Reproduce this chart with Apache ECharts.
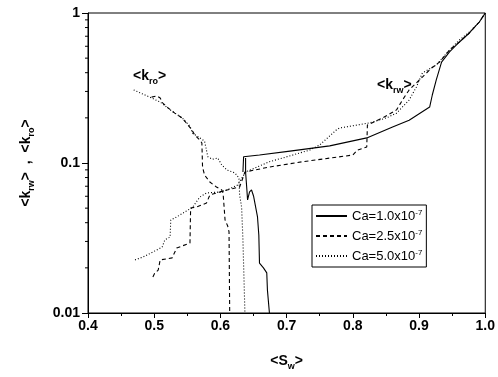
<!DOCTYPE html>
<html>
<head>
<meta charset="utf-8">
<script src="https://cdn.jsdelivr.net/npm/echarts@6/dist/echarts.min.js"></script>
<style>
  html, body { margin: 0; padding: 0; background: #fff; }
  #chart { width: 498px; height: 377px; }
</style>
</head>
<body>
<div id="chart"></div>
<script>
// series names (legend)
const caNames = ["Ca=1.0x10-7", "Ca=2.5x10-7", "Ca=5.0x10-7"];

// <k_rw> curves, [Sw, k]
const krwCa10 = [
  [0.634, 0.0871], [0.635, 0.110], [0.659, 0.113], [0.705, 0.120], [0.765, 0.130],
  [0.821, 0.147], [0.860, 0.174], [0.885, 0.193], [0.916, 0.236], [0.920, 0.284],
  [0.926, 0.358], [0.934, 0.471], [0.946, 0.550], [0.961, 0.641], [0.976, 0.736],
  [0.991, 0.871], [1.0, 1.0]
];
const krwCa25 = [
  [0.498, 0.0174], [0.501, 0.0185], [0.506, 0.0193], [0.509, 0.0226], [0.527, 0.0233],
  [0.534, 0.0271], [0.554, 0.0293], [0.555, 0.0501], [0.564, 0.0509], [0.579, 0.0541],
  [0.584, 0.0612], [0.594, 0.0631], [0.610, 0.0661], [0.629, 0.0692], [0.637, 0.0871],
  [0.674, 0.0940], [0.724, 0.102], [0.800, 0.113], [0.807, 0.122], [0.821, 0.128],
  [0.822, 0.179], [0.845, 0.200], [0.866, 0.226], [0.875, 0.263], [0.885, 0.307],
  [0.905, 0.374], [0.919, 0.430], [0.931, 0.471], [0.946, 0.567], [0.961, 0.641],
  [0.976, 0.736], [0.991, 0.871], [1.0, 1.0]
];
const krwCa50 = [
  [0.471, 0.0226], [0.483, 0.0236], [0.498, 0.0255], [0.512, 0.0275], [0.516, 0.0307],
  [0.524, 0.0321], [0.525, 0.0417], [0.534, 0.0437], [0.551, 0.0486], [0.557, 0.0501],
  [0.569, 0.0593], [0.579, 0.0631], [0.599, 0.0641], [0.610, 0.0661], [0.626, 0.0713],
  [0.638, 0.0871], [0.674, 0.102], [0.694, 0.108], [0.735, 0.122], [0.750, 0.132],
  [0.775, 0.166], [0.780, 0.171], [0.825, 0.185], [0.851, 0.200], [0.866, 0.215],
  [0.885, 0.263], [0.896, 0.321], [0.905, 0.398], [0.926, 0.450], [0.946, 0.567],
  [0.961, 0.661], [0.976, 0.747], [0.991, 0.871], [1.0, 1.0]
];

// <k_ro> curves, [Sw, k]
const kroCa10 = [
  [0.638, 0.108], [0.638, 0.0871], [0.640, 0.0661], [0.641, 0.0567], [0.644, 0.0641],
  [0.647, 0.0661], [0.650, 0.0603], [0.656, 0.0437], [0.658, 0.0331], [0.659, 0.0215],
  [0.665, 0.0200], [0.670, 0.0185], [0.671, 0.0142], [0.674, 0.0100]
];
const kroCa25 = [
  [0.496, 0.275], [0.504, 0.280], [0.509, 0.271], [0.513, 0.251], [0.521, 0.233],
  [0.531, 0.215], [0.542, 0.200], [0.551, 0.179], [0.557, 0.166], [0.561, 0.154],
  [0.569, 0.142], [0.572, 0.136], [0.573, 0.0940], [0.576, 0.0832], [0.584, 0.0747],
  [0.594, 0.0692], [0.602, 0.0661], [0.604, 0.0631], [0.607, 0.0417], [0.611, 0.0380],
  [0.613, 0.0347], [0.614, 0.0100]
];
const kroCa50 = [
  [0.469, 0.307], [0.486, 0.284], [0.509, 0.255], [0.524, 0.226], [0.542, 0.200],
  [0.554, 0.176], [0.558, 0.158], [0.569, 0.147], [0.576, 0.140], [0.579, 0.138],
  [0.581, 0.110], [0.588, 0.106], [0.596, 0.108], [0.602, 0.0970], [0.610, 0.0898],
  [0.622, 0.0858], [0.628, 0.0794], [0.629, 0.0612], [0.632, 0.0509], [0.634, 0.0307],
  [0.637, 0.0100]
];

// log axis minor tick values (2..9 per decade)
const yMinorTicks = [0.02, 0.03, 0.04, 0.05, 0.06, 0.07, 0.08, 0.09,
  0.2, 0.3, 0.4, 0.5, 0.6, 0.7, 0.8, 0.9];

const FONT = "Arial";
const lineTypes = ["solid", [4, 3], [1, 2]];

const chart = echarts.init(document.getElementById("chart"));

function curve(name, data, idx) {
  return {
    name: name,
    type: "line",
    data: data,
    symbol: "none",
    showSymbol: false,
    lineStyle: { color: "#000", width: 1.1, type: lineTypes[idx] },
    itemStyle: { color: "#000" },
    emphasis: { disabled: true },
  };
}

const subStyle = { fontSize: 9, fontWeight: "bold", fontFamily: FONT, verticalAlign: "bottom", color: "#000" };

const option = {
  animation: false,
  grid: {
    left: 88, right: 12, top: 13, bottom: 64,
    show: true, borderColor: "#000", borderWidth: 1,
  },
  legend: {
    data: caNames,
    orient: "vertical",
    left: 312, top: 205,
    itemWidth: 31, itemHeight: 14, itemGap: 6,
    padding: [4, 4, 4, 3],
    borderColor: "#000", borderWidth: 1,
    itemStyle: { opacity: 0 },
    formatter: (n) => n.replace("-7", "{sup|-7}"),
    textStyle: {
      fontFamily: FONT, fontSize: 13, color: "#000", lineHeight: 14,
      rich: { sup: { fontSize: 8, fontFamily: FONT, verticalAlign: "top", color: "#000" } },
    },
  },
  xAxis: {
    type: "value",
    min: 0.4, max: 1.0, interval: 0.1,
    name: "<S{s|w}>",
    nameLocation: "middle", nameGap: 38,
    nameTextStyle: {
      fontFamily: FONT, fontSize: 14, fontWeight: "bold", color: "#000", lineHeight: 20,
      rich: { s: subStyle },
    },
    axisLine: { lineStyle: { color: "#000", width: 1 } },
    axisTick: { length: 5, lineStyle: { color: "#000" } },
    minorTick: { show: true, splitNumber: 2, length: 3, lineStyle: { color: "#000" } },
    splitLine: { show: false },
    axisLabel: {
      margin: 6, color: "#000", fontFamily: FONT, fontSize: 14, fontWeight: "bold",
      formatter: (v) => v.toFixed(1),
    },
  },
  yAxis: {
    type: "log", logBase: 10,
    min: 0.01, max: 1,
    name: "<k{s|rw}>  ,  <k{s|ro}>",
    nameLocation: "middle", nameGap: 52,
    nameTextStyle: {
      fontFamily: FONT, fontSize: 14, fontWeight: "bold", color: "#000", lineHeight: 20,
      rich: { s: subStyle },
    },
    axisLine: { show: true, lineStyle: { color: "#000", width: 1 } },
    axisTick: { length: 6, lineStyle: { color: "#000" } },
    splitLine: { show: false },
    axisLabel: {
      margin: 8, color: "#000", fontFamily: FONT, fontSize: 14, fontWeight: "bold",
      formatter: (v) => String(v),
    },
  },
  graphic: [
    {
      type: "text", left: 133, top: 66,
      style: {
        text: "<k{s|ro}>", fill: "#000",
        font: "bold 14px " + FONT,
        rich: { s: Object.assign({ lineHeight: 20 }, subStyle) },
        lineHeight: 20,
      },
    },
    {
      type: "text", left: 377, top: 75,
      style: {
        text: "<k{s|rw}>", fill: "#000",
        font: "bold 14px " + FONT,
        rich: { s: Object.assign({ lineHeight: 20 }, subStyle) },
        lineHeight: 20,
      },
    },
  ],
  series: [
    curve(caNames[0], krwCa10, 0),
    curve(caNames[1], krwCa25, 1),
    curve(caNames[2], krwCa50, 2),
    curve(caNames[0], kroCa10, 0),
    curve(caNames[1], kroCa25, 1),
    curve(caNames[2], kroCa50, 2),
    {
      type: "custom",
      silent: true,
      clip: false,
      data: yMinorTicks.map((v) => [0.4, v]),
      renderItem: (params, api) => {
        const p = api.coord([api.value(0), api.value(1)]);
        return {
          type: "line",
          shape: { x1: p[0] - 3, y1: p[1], x2: p[0], y2: p[1] },
          style: { stroke: "#000", lineWidth: 1 },
        };
      },
    },
  ],
};

chart.setOption(option);
</script>
</body>
</html>
